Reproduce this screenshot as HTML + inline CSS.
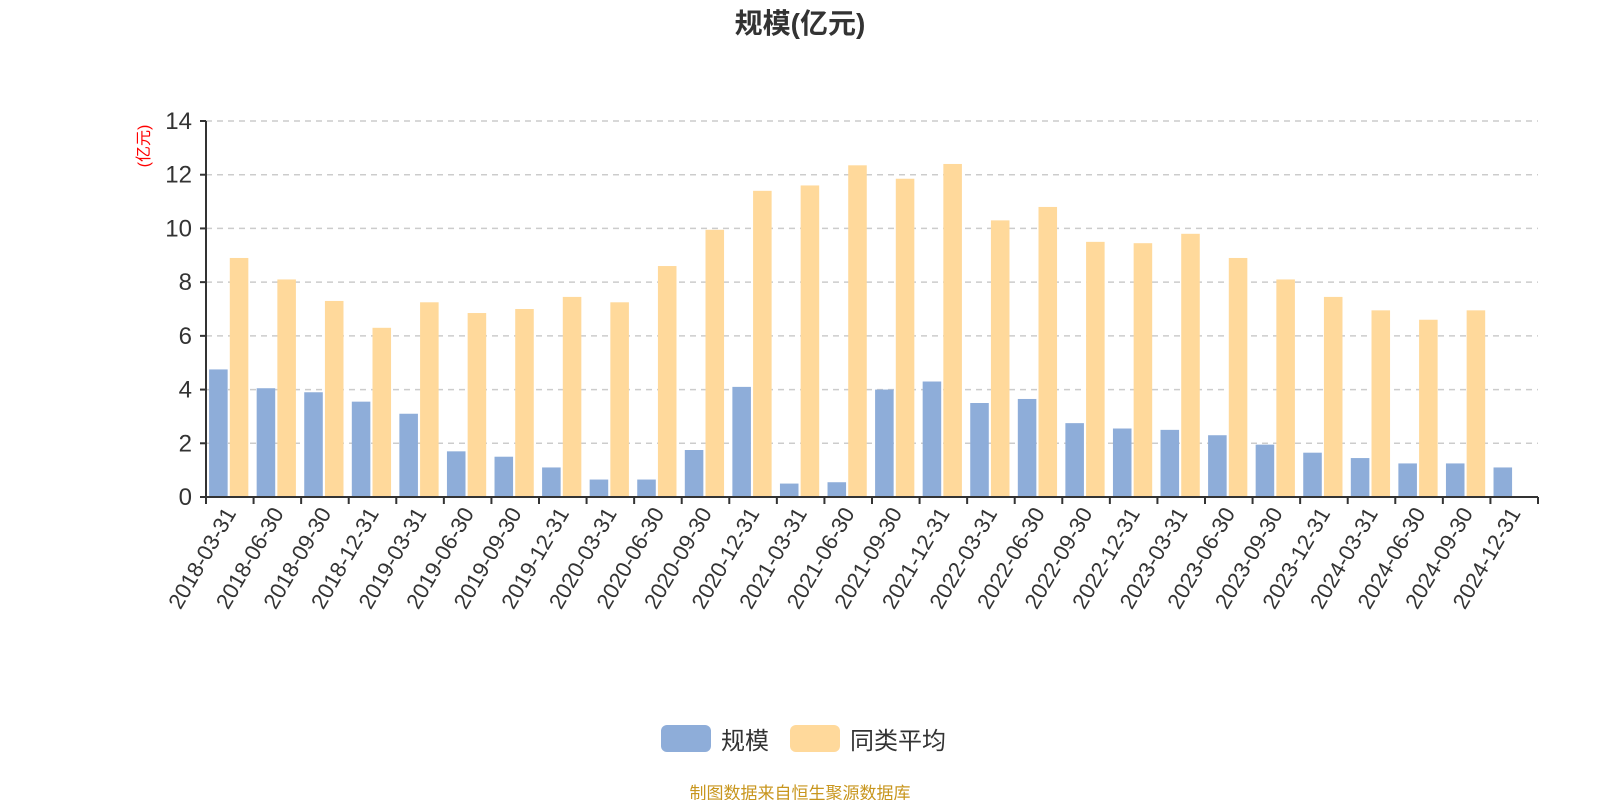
<!DOCTYPE html>
<html><head><meta charset="utf-8"><style>
body{margin:0;background:#fff;}
svg{display:block;font-family:"Liberation Sans","Noto Sans CJK SC",sans-serif;}
</style></head><body>
<svg id="c" width="1600" height="800">
<text x="800" y="33" text-anchor="middle" font-size="28" font-weight="bold" fill="#333">规模(亿元)</text>
<text transform="translate(149,146) rotate(-90)" text-anchor="middle" font-size="16" fill="#ff0000">(亿元)</text>
<g id="grid"></g><g id="bars"></g><g id="axes"></g>
<g>
<g><rect x="661" y="725" width="50" height="27" rx="6" fill="#8eadd9"/><text x="721" y="749" font-size="24" fill="#333">规模</text></g>
<g><rect x="790" y="725" width="50" height="27" rx="6" fill="#ffd99b"/><text x="850" y="749" font-size="24" fill="#333">同类平均</text></g>
</g>
<text x="800" y="799" text-anchor="middle" font-size="17" fill="#c8961e">制图数据来自恒生聚源数据库</text>
</svg>
<script>
const categories=["2018-03-31","2018-06-30","2018-09-30","2018-12-31","2019-03-31","2019-06-30","2019-09-30","2019-12-31","2020-03-31","2020-06-30","2020-09-30","2020-12-31","2021-03-31","2021-06-30","2021-09-30","2021-12-31","2022-03-31","2022-06-30","2022-09-30","2022-12-31","2023-03-31","2023-06-30","2023-09-30","2023-12-31","2024-03-31","2024-06-30","2024-09-30","2024-12-31"];
const scaleValues=[4.75,4.05,3.9,3.55,3.1,1.7,1.5,1.1,0.65,0.65,1.75,4.1,0.5,0.55,4.0,4.3,3.5,3.65,2.75,2.55,2.5,2.3,1.95,1.65,1.45,1.25,1.25,1.1];
const avgValues=[8.9,8.1,7.3,6.3,7.25,6.85,7.0,7.45,7.25,8.6,9.95,11.4,11.6,12.35,11.85,12.4,10.3,10.8,9.5,9.45,9.8,8.9,8.1,7.45,6.95,6.6,6.95,null];
const yTicks=[0,2,4,6,8,10,12,14];
const NS="http://www.w3.org/2000/svg";
const X0=206,X1=1538,Y0=497,Y1=121,YMAX=14;
const bw=(X1-X0)/categories.length;
const y=v=>Y0-(v/YMAX)*(Y0-Y1);
const x=i=>X0+i*bw;
function mk(t,a,p){const e=document.createElementNS(NS,t);for(const k in a)e.setAttribute(k,a[k]);p.appendChild(e);return e;}
const grid=document.getElementById('grid'),bars=document.getElementById('bars'),axes=document.getElementById('axes');
yTicks.forEach(v=>{
 if(v>0){const g=mk('line',{x1:X0,x2:X1,y1:y(v),y2:y(v),stroke:'#ccc','stroke-width':1.5,'stroke-dasharray':'6,5'},grid);
 
 }
 const tk=mk('line',{x1:X0-6,x2:X0,y1:y(v),y2:y(v),stroke:'#333','stroke-width':2},axes);
 
 
 const t=mk('text',{x:X0-14,y:y(v)+8,'text-anchor':'end','font-size':24,fill:'#333'},axes);
 t.textContent=v;
 
 
});
const bwid=bw*0.39;
categories.forEach((c,i)=>{
 const b=mk('rect',{x:x(i)+bw*0.065,y:y(scaleValues[i]),width:bwid,height:Y0-y(scaleValues[i]),fill:'#8eadd9'},bars);
 
 
 if(avgValues[i]!=null){const a=mk('rect',{x:x(i)+bw*0.5,y:y(avgValues[i]),width:bwid,height:Y0-y(avgValues[i]),fill:'#ffd99b'},bars);
 
 }
 const tk=mk('line',{x1:x(i),x2:x(i),y1:Y0,y2:Y0+7,stroke:'#333','stroke-width':2},axes);
 
 
 const cx=x(i)+bw/2;
 const t=mk('text',{x:cx+7,y:Y0+16,'text-anchor':'end','font-size':22,fill:'#333',transform:`rotate(-60 ${cx+7} ${Y0+16})`},axes);
 t.textContent=c;
 
 
});
const lt=mk('line',{x1:X1,x2:X1,y1:Y0,y2:Y0+7,stroke:'#333','stroke-width':2},axes);


const xa=mk('line',{x1:X0,x2:X1,y1:Y0,y2:Y0,stroke:'#333','stroke-width':2},axes);


const ya=mk('line',{x1:X0,x2:X0,y1:Y1,y2:Y0,stroke:'#333','stroke-width':2},axes);


</script>
</body></html>
